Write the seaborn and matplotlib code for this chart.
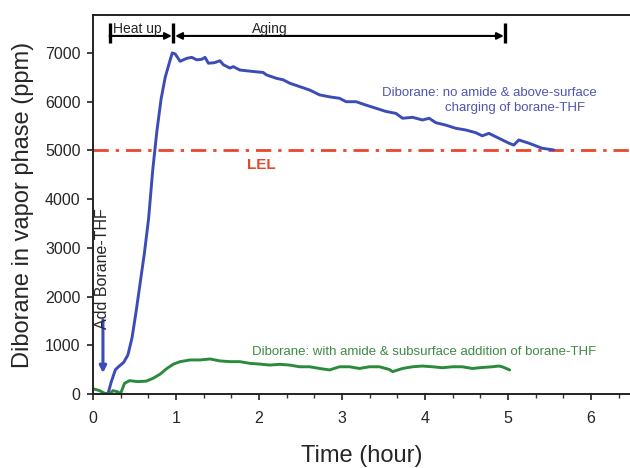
import matplotlib
matplotlib.use("Agg")
import matplotlib.pyplot as plt
from matplotlib.ticker import MultipleLocator
import numpy as np
import pandas as pd
import seaborn as sns

# Diborane concentration in the vapour phase, no amide, above-surface charging
t_no_amide = [0.18, 0.22, 0.27, 0.32, 0.37, 0.42, 0.47, 0.52, 0.57, 0.62, 0.67,
              0.72, 0.77, 0.82, 0.87, 0.92, 0.955, 0.99, 1.05, 1.13, 1.19, 1.25,
              1.31, 1.35, 1.39, 1.46, 1.53, 1.57, 1.65, 1.69, 1.77, 1.93, 2.05,
              2.09, 2.21, 2.29, 2.37, 2.49, 2.61, 2.73, 2.85, 2.97, 3.05, 3.17,
              3.29, 3.41, 3.53, 3.65, 3.73, 3.85, 3.97, 4.05, 4.13, 4.25, 4.37,
              4.49, 4.61, 4.69, 4.77, 4.89, 5.01, 5.07, 5.13, 5.25, 5.41, 5.55]
ppm_no_amide = [0, 250, 500, 580, 650, 800, 1150, 1700, 2300, 2900, 3600,
                4600, 5400, 6050, 6500, 6800, 7000, 6980, 6830, 6890, 6910, 6860,
                6870, 6910, 6790, 6800, 6840, 6760, 6690, 6720, 6650, 6620, 6600,
                6550, 6480, 6450, 6380, 6310, 6240, 6140, 6100, 6070, 6000, 6000,
                5930, 5865, 5800, 5760, 5660, 5680, 5625, 5660, 5570, 5520, 5455,
                5420, 5365, 5300, 5350, 5250, 5150, 5110, 5215, 5150, 5045, 5010]

# Diborane concentration with amide, subsurface addition
t_amide = [0.0, 0.08, 0.14, 0.2, 0.24, 0.30, 0.33, 0.38, 0.44, 0.54, 0.64, 0.72,
           0.81, 0.89, 0.97, 1.05, 1.17, 1.29, 1.41, 1.53, 1.65, 1.77, 1.89,
           2.01, 2.13, 2.25, 2.37, 2.49, 2.61, 2.73, 2.85, 2.97, 3.09, 3.21,
           3.33, 3.45, 3.57, 3.61, 3.73, 3.85, 3.97, 4.09, 4.21, 4.33, 4.45,
           4.57, 4.69, 4.81, 4.89, 4.93, 5.02]
ppm_amide = [110, 70, 15, 0, 70, 45, 0, 220, 275, 255, 265, 320,
             410, 525, 615, 665, 700, 700, 720, 680, 665, 665, 630,
             615, 595, 610, 595, 560, 560, 525, 495, 560, 560, 525,
             560, 560, 505, 460, 525, 560, 575, 560, 540, 560, 560,
             525, 545, 560, 575, 560, 495]

lel_ppm = 5000
x_ticks = [0, 1, 2, 3, 4, 5, 6]
y_ticks = [0, 1000, 2000, 3000, 4000, 5000, 6000, 7000]

blue = "#3c4cb6"
blue_text = "#4f55b2"
green = "#2b8a3c"
green_text = "#3e8a46"
red = "#e8472d"

sns.set_theme(style="ticks")
plt.rcParams["font.family"] = ["Liberation Sans", "DejaVu Sans"]

df_a = pd.DataFrame({"t": t_no_amide, "ppm": ppm_no_amide})
df_b = pd.DataFrame({"t": t_amide, "ppm": ppm_amide})

fig = plt.figure(figsize=(6.3, 4.68), dpi=100)
ax = fig.add_axes([0.1476, 0.158, 0.8524, 0.810])

sns.lineplot(data=df_a, x="t", y="ppm", ax=ax, color=blue, lw=2.1,
             sort=False, estimator=None)
sns.lineplot(data=df_b, x="t", y="ppm", ax=ax, color=green, lw=2.1,
             sort=False, estimator=None)

# lower explosive limit
ax.axhline(lel_ppm, color=red, lw=2.0, dashes=(5.5, 2.5, 1.2, 2.5), zorder=1)
ax.text(2.03, 4700, "LEL", color=red, fontsize=11, fontweight="bold",
        ha="center", va="center")

# phase brackets
bar_lo, bar_hi, arr_y = 7210, 7620, 7350
for xb in (0.2, 0.97, 4.97):
    ax.plot([xb, xb], [bar_lo, bar_hi], color="black", lw=2.4,
            solid_capstyle="butt", clip_on=False)
ax.annotate("", xy=(0.95, arr_y), xytext=(0.2, arr_y),
            arrowprops=dict(arrowstyle="-|>", color="black", lw=1.5,
                            mutation_scale=10, shrinkA=0, shrinkB=0))
ax.annotate("", xy=(4.95, arr_y), xytext=(0.99, arr_y),
            arrowprops=dict(arrowstyle="<|-|>", color="black", lw=1.5,
                            mutation_scale=10, shrinkA=0, shrinkB=0))
ax.text(0.24, 7490, "Heat up", fontsize=10, ha="left", va="center")
ax.text(2.13, 7490, "Aging", fontsize=10, ha="center", va="center")

# addition marker
ax.annotate("", xy=(0.12, 430), xytext=(0.12, 1520),
            arrowprops=dict(arrowstyle="-|>", color=blue, lw=2.2,
                            mutation_scale=10, shrinkA=0, shrinkB=0))
ax.text(0.115, 1330, "Add Borane-THF", rotation=90, fontsize=11.5,
        ha="center", va="bottom")

# series labels
ax.text(3.48, 6180, "Diborane: no amide & above-surface", color=blue_text,
        fontsize=9.5, ha="left", va="center")
ax.text(4.24, 5870, "charging of borane-THF", color=blue_text,
        fontsize=9.5, ha="left", va="center")
ax.text(1.92, 868, "Diborane: with amide & subsurface addition of borane-THF",
        color=green_text, fontsize=9.5, ha="left", va="center")

ax.set_xlim(0, 6.47)
ax.set_ylim(0, 7780)
ax.set_xticks(x_ticks)
ax.set_yticks(y_ticks)
ax.xaxis.set_minor_locator(MultipleLocator(1 / 3))
ax.tick_params(axis="both", which="major", direction="out", length=4,
               width=1.3, labelsize=11.5, color="#333333")
ax.tick_params(axis="x", which="major", pad=8)
ax.tick_params(axis="y", which="major", pad=5)
ax.tick_params(axis="x", which="minor", direction="out", length=3, width=1.0,
               color="#333333")

ax.set_xlabel("Time (hour)", fontsize=17, labelpad=14)
ax.set_ylabel("Diborane in vapor phase (ppm)", fontsize=17, labelpad=8)

for side in ("left", "bottom", "top"):
    ax.spines[side].set_linewidth(1.4)
    ax.spines[side].set_color("#222222")
ax.spines["right"].set_visible(False)

fig.savefig("out.png", dpi=100, facecolor="white")
